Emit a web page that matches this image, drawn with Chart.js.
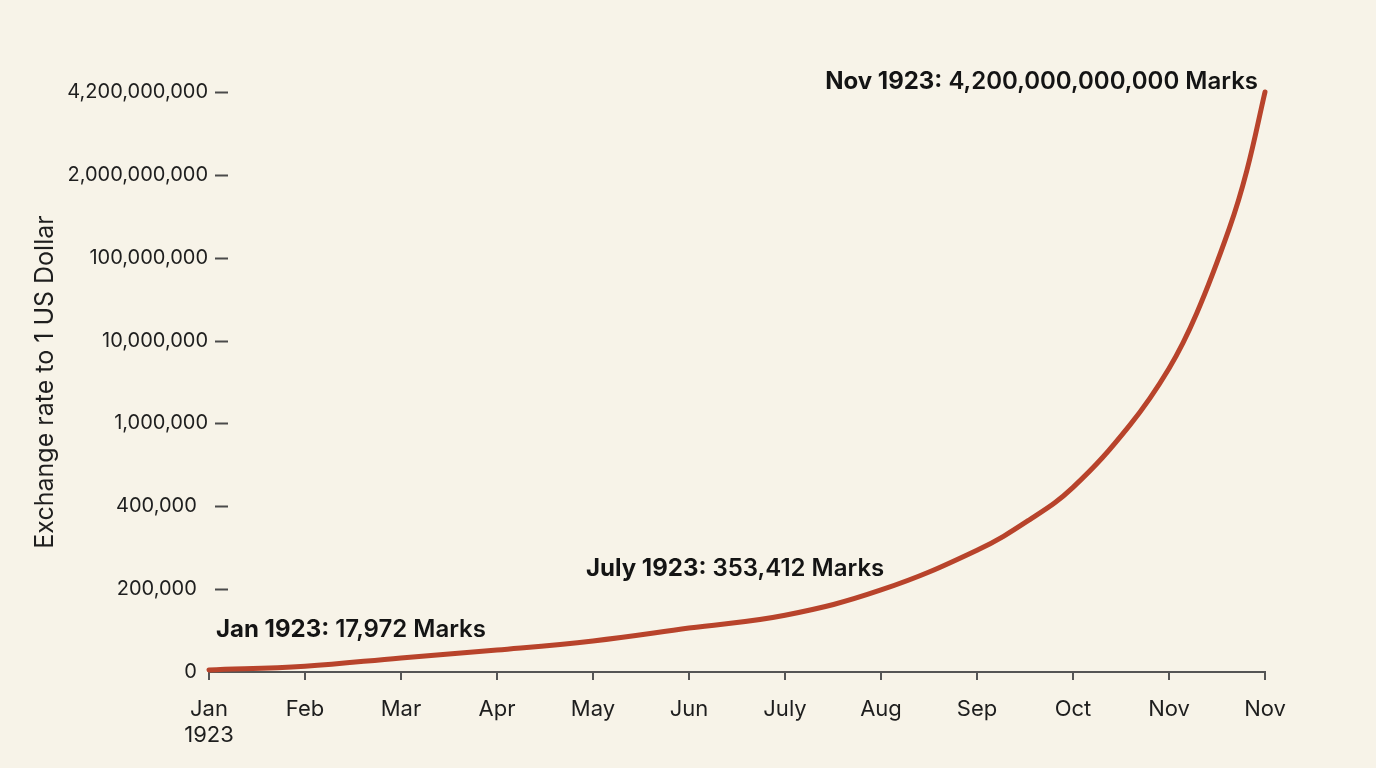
<!DOCTYPE html>
<html>
<head>
<meta charset="utf-8">
<script src="https://cdn.jsdelivr.net/npm/chart.js@4.4.1/dist/chart.umd.min.js"></script>
<style>
    html, body { margin: 0; padding: 0; background: #f7f3e8; }
    canvas { display: block; }
</style>
</head>
<body>
<canvas id="grafico" width="1376" height="768"></canvas>
<script>
// Meses do eixo x
const meses = [["Jan", "1923"], "Feb", "Mar", "Apr", "May", "Jun", "July", "Aug", "Sep", "Oct", "Nov", "Nov"];

// Posição (em meses) dos pontos
const posMeses = [0, 1, 2, 3, 4, 5, 6, 7, 8, 8.55, 9, 9.59, 10, 10.29, 10.63, 10.81, 11];

// Câmbio (marcos por 1 dólar)
const marcos = [5000, 14000, 34000, 53000, 75000, 106000, 137000, 198000, 294000, 368000, 537000,
    986000, 6970000, 40000000, 784000000, 2106000000, 4200000000];

// Valores dos ticks do eixo y (espaçados igualmente)
const ticksY = [0, 200000, 400000, 1000000, 10000000, 100000000, 2000000000, 4200000000];

// Anotações
const notasPos = [0, 6, 11];
const notasValor = [5000, 137000, 4200000000];
const notasNegrito = ["Jan 1923:", "July 1923:", "Nov 1923:"];
const notasTexto = [" 17,972 Marks", " 353,412 Marks", " 4,200,000,000,000 Marks"];

// converte o valor para a posição no eixo (interpolação entre ticks)
function posicao(v) {
    for (let i = 1; i < ticksY.length; i++) {
        if (v <= ticksY[i]) {
            return i - 1 + (v - ticksY[i - 1]) / (ticksY[i] - ticksY[i - 1]);
        }
    }
    return ticksY.length - 1;
}

const fonte = "Inter, 'Noto Sans', sans-serif";

const fundo = {
    id: "fundo",
    beforeDraw(chart) {
        const c = chart.ctx;
        c.save();
        c.fillStyle = "#f7f3e8";
        c.fillRect(0, 0, chart.width, chart.height);
        c.restore();
    }
};

// tracinhos do eixo y
const tracos = {
    id: "tracos",
    afterDraw(chart) {
        const c = chart.ctx;
        const y = chart.scales.y;
        const esq = chart.chartArea.left;
        c.save();
        c.strokeStyle = "#4a4a4a";
        c.lineWidth = 2;
        for (let i = 1; i < ticksY.length; i++) {
            const py = Math.round(y.getPixelForValue(i)) + 0.5;
            c.beginPath();
            c.moveTo(esq + 6, py);
            c.lineTo(esq + 19, py);
            c.stroke();
        }
        c.restore();
    }
};

// textos das anotações
const anotacoes = {
    id: "anotacoes",
    afterDatasetsDraw(chart) {
        const c = chart.ctx;
        const sx = chart.scales.x;
        const sy = chart.scales.y;
        const desloc = [[7, -40, "left"], [-199, -46, "left"], [-7, -10, "right"]];
        c.save();
        c.fillStyle = "#141414";
        c.textBaseline = "middle";
        notasPos.forEach((m, k) => {
            const px = sx.getPixelForValue(m);
            const py = sy.getPixelForValue(posicao(notasValor[k]));
            const fb = "700 24px " + fonte;
            const fn = "600 24px " + fonte;
            c.font = fb;
            const wb = c.measureText(notasNegrito[k]).width;
            c.font = fn;
            const wn = c.measureText(notasTexto[k]).width;
            let x = px + desloc[k][0];
            const y = py + desloc[k][1];
            if (desloc[k][2] === "right") x -= wb + wn;
            c.textAlign = "left";
            c.font = fb;
            c.fillText(notasNegrito[k], x, y);
            c.font = fn;
            c.fillText(notasTexto[k], x + wb, y);
        });
        c.restore();
    }
};

const ctx = document.getElementById("grafico").getContext("2d");

const grafico = new Chart(ctx, {
    type: "line",
    data: {
        datasets: [{
            label: "Exchange rate",
            data: posMeses.map((m, i) => ({ x: m, y: posicao(marcos[i]) })),
            borderColor: "#b8432b",
            borderWidth: 5,
            borderCapStyle: "round",
            borderJoinStyle: "round",
            pointRadius: 0,
            tension: 0.4,
            fill: false,
            clip: false
        }]
    },
    options: {
        responsive: false,
        animation: false,
        devicePixelRatio: 1,
        layout: { padding: { top: 92, right: 111, left: 0, bottom: 0 } },
        plugins: {
            legend: { display: false },
            tooltip: { enabled: false }
        },
        scales: {
            x: {
                type: "linear",
                min: 0,
                max: meses.length - 1,
                afterFit(s) { s.height = 96; },
                grid: {
                    drawOnChartArea: false,
                    drawTicks: true,
                    tickLength: 8,
                    color: "#555555",
                    lineWidth: 2
                },
                border: { display: true, color: "#555555", width: 2 },
                ticks: {
                    stepSize: 1,
                    color: "#1e1e1e",
                    font: { family: fonte, size: 22 },
                    padding: 16,
                    maxRotation: 0,
                    autoSkip: false,
                    callback: (v) => meses[v]
                }
            },
            y: {
                min: 0,
                max: ticksY.length - 1,
                afterFit(s) { s.width = 209; },
                grid: { display: false, drawTicks: false },
                border: { display: false },
                ticks: {
                    stepSize: 1,
                    padding: 1,
                    color: "#1e1e1e",
                    font: { family: fonte, size: 20 },
                    callback: (v) => {
                        const t = ticksY[v].toLocaleString("en-US");
                        return v <= 2 ? t + "  " : t;
                    }
                },
                title: {
                    display: true,
                    text: "Exchange rate to 1 US Dollar",
                    color: "#1e1e1e",
                    font: { family: fonte, size: 25 },
                    padding: { top: 30, bottom: 0 }
                }
            }
        }
    },
    plugins: [fundo, tracos, anotacoes]
});
</script>
</body>
</html>
